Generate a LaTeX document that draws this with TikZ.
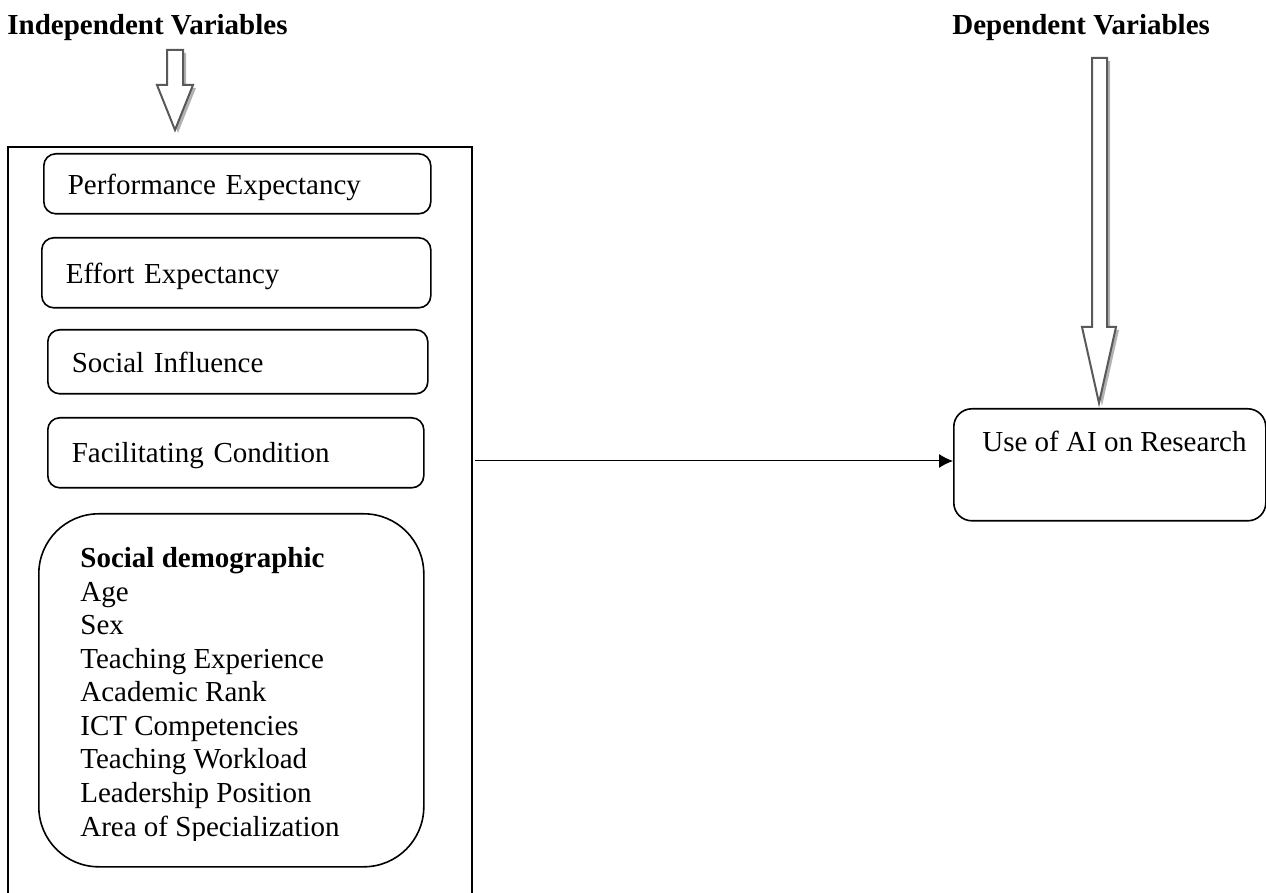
\documentclass[tikz,border=0pt]{standalone}
\usepackage{fontspec}
\setmainfont{Liberation Serif}
\usetikzlibrary{arrows.meta,shadows}

\tikzset{
  factor/.style={draw, line width=0.8pt, rounded corners=6pt, anchor=north west, align=left, inner xsep=12pt, inner ysep=0pt, text depth=0pt},
  txt/.style={anchor=base west, inner sep=0pt},
  bigarrow/.style={draw=black!65, line width=1pt, fill=white, drop shadow={shadow xshift=1.5pt, shadow yshift=-1.5pt, fill=black!30, opacity=1}},
}

\begin{document}
\begin{tikzpicture}[x=0.5pt, y=-0.5pt, font=\fontsize{14.5pt}{16.75pt}\selectfont]

\useasboundingbox (0,0) rectangle (1266,893);

% headings
\node (indep) [txt, font=\fontsize{14.5pt}{16.75pt}\selectfont\bfseries] at (7,35) {Independent Variables};
\node (dep) [txt, font=\fontsize{14.5pt}{16.75pt}\selectfont\bfseries] at (952,35) {Dependent Variables};

% hollow arrows
\draw [bigarrow] (167,50) -- (183,50) -- (183,85) -- (193,85) -- (175,130) -- (157,85) -- (167,85) -- cycle;
\draw [bigarrow] (1092,58) -- (1107,58) -- (1107,327) -- (1116,327) -- (1099,403) -- (1082,327) -- (1092,327) -- cycle;

% frame round the independent variables
\draw [line width=0.8pt] (8,893) -- (8,147) -- (472,147) -- (472,893);

\node (pe) [factor, text width=169.5pt, minimum height=30pt] at (43,153) {Performance Expectancy};
\node (ee) [factor, text width=170.5pt, minimum height=35pt] at (41,237) {Effort Expectancy};
\node (si) [factor, text width=166pt, minimum height=32pt] at (47,329) {Social Influence};
\node (fc) [factor, text width=164pt, minimum height=35pt] at (47,417) {Facilitating Condition};

\node (sd) [draw, line width=0.8pt, rounded corners=30pt, anchor=north west, minimum width=192.5pt, minimum height=176.5pt] at (38,513) {};

\begin{scope}
\clip (0,0) rectangle (1266,840);
\node (sd-0) [txt, font=\fontsize{14.5pt}{16.75pt}\selectfont\bfseries] at (80,568) {Social demographic};
\foreach \item [count=\k] in {Age, Sex, Teaching Experience, Academic Rank, ICT Competencies, Teaching Workload, Leadership Position, Area of Specialization} {
    \node (sd-\k) [txt] at (80,568+33.5*\k) {\item};
}
\end{scope}

% dependent variable
\node (ai) [draw, line width=0.8pt, rounded corners=9pt, anchor=north west, minimum width=156pt, minimum height=56pt] at (953,408) {};
\node (aitext) [txt] at (982,452) {Use of AI on Research};

\coordinate (ivout) at (475,461);
\draw [line width=0.5pt, -{Latex[length=7pt,width=7pt]}] (ivout) -- (ivout -| ai.west);

\end{tikzpicture}
\end{document}
